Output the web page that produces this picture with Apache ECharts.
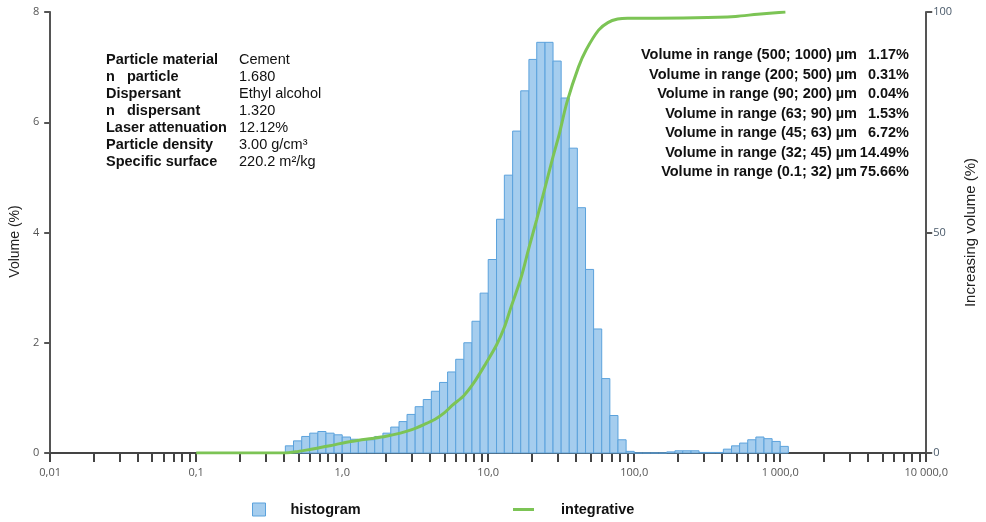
<!DOCTYPE html>
<html><head><meta charset="utf-8">
<script src="https://cdn.jsdelivr.net/npm/echarts@6/dist/echarts.min.js"></script>
<style>html,body{margin:0;padding:0;background:#fff}#c{width:986px;height:522px}</style>
</head><body><div id="c"></div>
<script>
// Bin edges (µm), 18 log-spaced bins per decade
const binEdges = [0.408,0.464,0.528,0.599,0.681,0.774,0.880,
  1.00,1.14,1.29,1.47,1.67,1.90,2.15,2.45,2.78,3.16,3.59,4.08,4.64,5.27,5.99,6.81,7.74,8.80,
  10.0,11.4,12.9,14.7,16.7,19.0,21.5,24.5,27.8,31.6,35.9,40.8,46.4,52.7,59.9,68.1,77.4,88.0,
  100,114,129,147,167,190,215,245,278,316,359,408,464,527,599,681,774,880,
  1000,1136];
// Volume (%) per bin
const volumePct = [0.13,0.22,0.30,0.36,0.39,0.36,0.33,
  0.29,0.25,0.24,0.24,0.30,0.36,0.47,0.57,0.70,0.84,0.97,1.12,1.28,1.47,1.70,2.00,2.39,2.90,
  3.51,4.24,5.04,5.84,6.57,7.14,7.45,7.45,7.11,6.44,5.53,4.45,3.33,2.25,1.35,0.68,0.24,0.03,
  0,0,0,0,0.02,0.04,0.04,0.04,0.01,0.01,0.01,0.07,0.13,0.18,0.24,0.29,0.26,0.21,
  0.12];
// Integrative curve (size µm, increasing volume %)
const cumSizes = [0.1,0.4,0.5,0.6,0.75,0.9,1.05,1.3,1.6,2.0,2.5,3.0,3.6,4.3,5.0,5.72,6.8,8.0,9.63,11.4,12.9,14.3,16.7,19.0,21.5,24.5,27.8,30.5,34.6,41.5,47,57,66,77,90,110,264,494,700,1085];
const cumPct   = [0,0,0.35,0.8,1.4,1.9,2.4,2.9,3.3,3.8,4.5,5.3,6.4,7.6,9.1,10.9,13.0,16.0,20.3,24.5,28.5,33.0,39.5,46.5,53.0,60.2,67.2,72.0,79.5,87.5,91.5,95.9,97.6,98.4,98.6,98.6,98.7,99.0,99.5,100];

const xTickValues = [0.01,0.1,1,10,100,1000,10000];
const xTickLabels = ['0,01','0,1','1,0','10,0','100,0','1 000,0','10 000,0'];
const leftTicks = [0,2,4,6,8];
const rightTicks = [0,50,100];

const infoLabels = ['Particle material','n   particle','Dispersant','n   dispersant','Laser attenuation','Particle density','Specific surface'];
const infoValues = ['Cement','1.680','Ethyl alcohol','1.320','12.12%','3.00 g/cm\u00B3','220.2 m\u00B2/kg'];
const rangeLabels = ['Volume in range (500; 1000) \u00B5m','Volume in range (200; 500) \u00B5m','Volume in range (90; 200) \u00B5m','Volume in range (63; 90) \u00B5m','Volume in range (45; 63) \u00B5m','Volume in range (32; 45) \u00B5m','Volume in range (0.1; 32) \u00B5m'];
const rangeValues = ['1.17%','0.31%','0.04%','1.53%','6.72%','14.49%','75.66%'];

const FONT = '"Liberation Sans", Arial, sans-serif';
const BAR_FILL = '#a5cdee';
const BAR_STROKE = '#5ba2dc';
const GREEN = '#7cc455';

const histData = volumePct.map((v, i) => [binEdges[i], binEdges[i + 1], v]);
const cumData = cumSizes.map((s, i) => [s, cumPct[i]]);

const minorTicks = [];
for (let d = -2; d < 4; d++) for (let m = 1; m < 10; m++) minorTicks.push(m * Math.pow(10, d));
minorTicks.push(10000);

const graphics = [];
infoLabels.forEach((t, i) => {
  const y = 60 + i * 17.05;
  graphics.push({type:'text', x:106, y:y, style:{text:t, font:'bold 14.5px ' + FONT, fill:'#111', verticalAlign:'middle'}});
  graphics.push({type:'text', x:239, y:y, style:{text:infoValues[i], font:'14.5px ' + FONT, fill:'#111', verticalAlign:'middle'}});
});
rangeLabels.forEach((t, i) => {
  const y = 55 + i * 19.55;
  graphics.push({type:'text', x:857, y:y, style:{text:t, font:'bold 14.5px ' + FONT, fill:'#111', align:'right', verticalAlign:'middle'}});
  graphics.push({type:'text', x:909, y:y, style:{text:rangeValues[i], font:'bold 14.5px ' + FONT, fill:'#111', align:'right', verticalAlign:'middle'}});
});

const chart = echarts.init(document.getElementById('c'), null, {renderer:'canvas'});
chart.setOption({
  animation: false,
  backgroundColor: '#fff',
  grid: {left:49, right:53, top:12, bottom:69},
  legend: [
    {left:247, top:497, itemWidth:13, itemHeight:13, icon:'rect',
     data:[{name:'histogram', itemStyle:{color:BAR_FILL, borderColor:BAR_STROKE, borderWidth:1}}],
     textStyle:{fontFamily:FONT, fontWeight:'bold', fontSize:14.5, color:'#111', padding:[0,0,0,20]}},
    {left:508, top:497, itemWidth:21, itemHeight:3, icon:'rect',
     data:[{name:'integrative', itemStyle:{color:GREEN, borderWidth:0}}],
     textStyle:{fontFamily:FONT, fontWeight:'bold', fontSize:14.5, color:'#111', padding:[0,0,0,22]}}
  ],
  xAxis: {
    type:'log', logBase:10, min:0.01, max:10000,
    axisLine:{show:true, lineStyle:{color:'#444', width:2}},
    axisTick:{show:true, inside:false, length:9, lineStyle:{color:'#444', width:2}, customValues:minorTicks},
    axisLabel:{customValues:xTickValues, margin:14, color:'#555', fontSize:11, fontFamily:'"Open Sans", sans-serif',
      formatter: v => xTickLabels[Math.round(Math.log10(v)) + 2]},
    splitLine:{show:false}, minorTick:{show:false}
  },
  yAxis: [
    {type:'value', min:0, max:8, interval:2, position:'left',
     name:'Volume (%)', nameLocation:'middle', nameGap:25, nameRotate:90,
     nameTextStyle:{fontFamily:FONT, fontSize:14, color:'#222', padding:[0,0,0,-18]},
     axisLine:{show:true, lineStyle:{color:'#555', width:2}},
     axisTick:{show:true, length:6, lineStyle:{color:'#555', width:2}},
     axisLabel:{color:'#555', fontSize:11, margin:11, fontFamily:'"Open Sans", sans-serif',
       formatter: v => leftTicks.indexOf(v) >= 0 ? String(v) : ''},
     splitLine:{show:false}},
    {type:'value', min:0, max:100, interval:50, position:'right',
     name:'Increasing volume (%)', nameLocation:'middle', nameGap:36, nameRotate:90,
     nameTextStyle:{fontFamily:FONT, fontSize:15, color:'#222'},
     axisLine:{show:true, lineStyle:{color:'#555', width:2}},
     axisTick:{show:true, length:6, lineStyle:{color:'#555', width:2}},
     axisLabel:{color:'#4a5a6a', fontSize:11, margin:7, fontFamily:'"Open Sans", sans-serif',
       formatter: v => rightTicks.indexOf(v) >= 0 ? String(v) : ''},
     splitLine:{show:false}}
  ],
  series: [
    {name:'histogram', type:'custom', xAxisIndex:0, yAxisIndex:0,
     itemStyle:{color:BAR_FILL, borderColor:BAR_STROKE},
     encode:{x:[0,1], y:2},
     data: histData,
     renderItem: (params, api) => {
       const p0 = api.coord([api.value(0), api.value(2)]);
       const p1 = api.coord([api.value(1), 0]);
       return {type:'rect', shape:{x:p0[0], y:p0[1], width:p1[0]-p0[0], height:p1[1]-p0[1]},
               style:{fill:BAR_FILL, stroke:BAR_STROKE, lineWidth:1}};
     }},
    {name:'integrative', type:'line', xAxisIndex:0, yAxisIndex:1, data:cumData,
     symbol:'none', smooth:0.3, z:5,
     lineStyle:{color:GREEN, width:3}, itemStyle:{color:GREEN}}
  ],
  graphic: graphics
});
</script></body></html>
